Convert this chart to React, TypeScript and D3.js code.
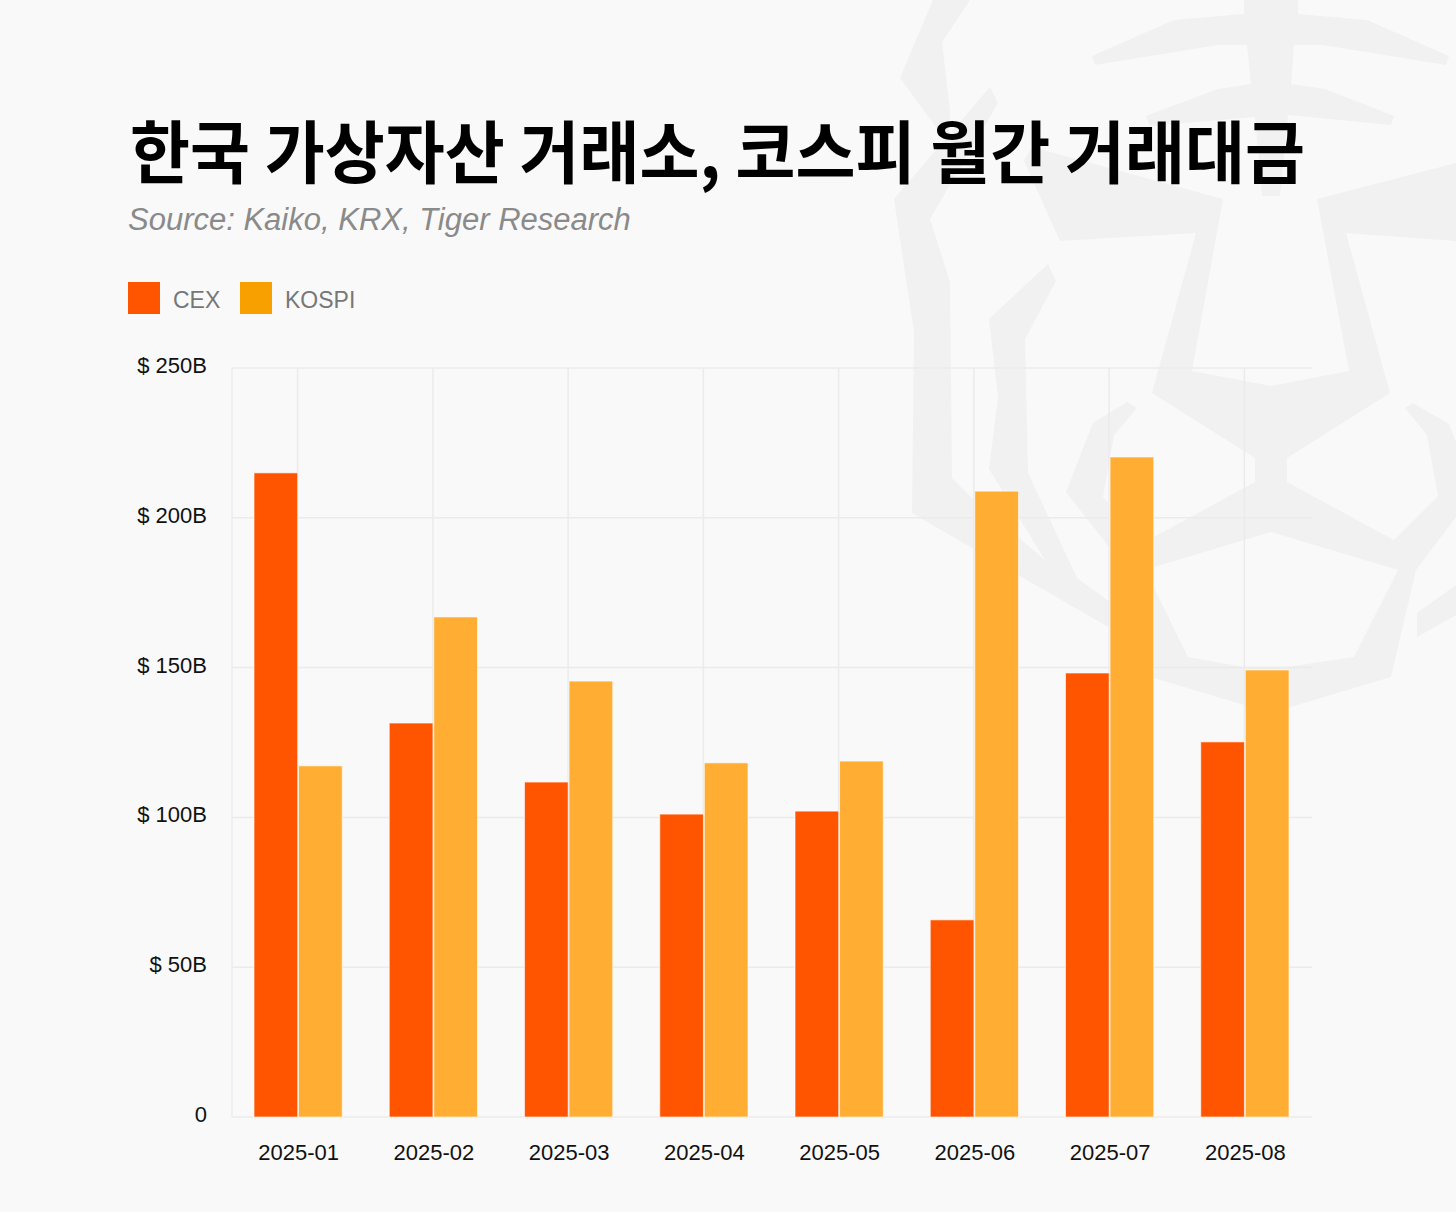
import * as d3 from "d3";
import React from "react";

const months = ["2025-01", "2025-02", "2025-03", "2025-04", "2025-05", "2025-06", "2025-07", "2025-08"];
const seriesNames = ["CEX", "KOSPI"];
const cexValues = [215.0, 131.5, 111.8, 101.1, 102.1, 65.8, 148.2, 125.2];
const kospiValues = [117.2, 166.9, 145.5, 118.2, 118.8, 208.9, 220.3, 149.2];
const yTicks = [0, 50, 100, 150, 200, 250];

const barColours = ["#FF5500", "#FFAD33"];
const legendColours = ["#FF5500", "#F7A000"];

// tiger watermark, rough outline
const watermark: [number, number][][] = [
    [[933, 0], [970, 0], [942, 42], [950, 112], [948, 143], [900, 78]],
    [[990, 87], [998, 103], [930, 219], [950, 282], [952, 478], [974, 500], [1045, 560], [1077, 578], [1110, 602], [1110, 628], [1020, 576], [912, 513], [914, 332], [894, 199]],
    [[1048, 264], [1056, 281], [1025, 339], [1028, 473], [1077, 578], [1045, 560], [989, 469], [998, 397], [989, 319]],
    [[1092, 56], [1174, 20], [1244, 14], [1244, 0], [1298, 0], [1298, 14], [1367, 20], [1449, 56], [1446, 65], [1323, 45], [1294, 45], [1291, 84], [1325, 89], [1394, 116], [1391, 125], [1288, 115], [1280, 196], [1262, 196], [1255, 117], [1150, 126], [1146, 116], [1218, 89], [1251, 84], [1247, 45], [1218, 45], [1095, 65]],
    [[1127, 402], [1137, 408], [1114, 435], [1103, 497], [1110, 505], [1110, 548], [1066, 492], [1093, 423]],
    [[1417, 613], [1456, 585], [1456, 615], [1417, 637]],
];
const faceOuter: [number, number][] = [
    [1024, 161], [1032, 147], [1223, 199], [1192, 371], [1271, 386], [1349, 371], [1317, 199], [1456, 163], [1456, 241], [1346, 233],
    [1390, 393], [1287, 458], [1287, 482], [1394, 540], [1438, 496], [1427, 435], [1405, 408], [1413, 403], [1449, 424], [1456, 442],
    [1456, 517], [1416, 570], [1391, 677], [1287, 708], [1244, 705], [1154, 678], [1110, 660], [1110, 540], [1154, 537], [1255, 482],
    [1255, 458], [1152, 393], [1196, 233], [1060, 241],
];
const faceHole: [number, number][] = [
    [1154, 567], [1271, 532], [1398, 570], [1354, 657], [1287, 667], [1244, 667], [1188, 657], [1154, 588],
];

const W = 1456;
const H = 1212;
const plot = { left: 230, right: 1312, top: 368, bottom: 1117 };

const latin = "'Liberation Sans', Arial, Helvetica, sans-serif";
const korean = "'Noto Sans CJK KR', 'Noto Sans', sans-serif";

function poly(pts: [number, number][]) {
    return "M" + pts.map(p => p.join(",")).join("L") + "Z";
}

function App() {
    const x = d3.scaleBand<string>().domain(months).range([plot.left, plot.right]).paddingInner(0).paddingOuter(0);
    const groupW = 90;
    const inner = d3.scaleBand<string>().domain(seriesNames).range([0, groupW]).padding(0.02);
    const y = d3.scaleLinear().domain([0, 250]).range([plot.bottom, plot.top]);

    const series = [cexValues, kospiValues];

    return (
        <div style={{ position: "absolute", left: 0, top: 0 }}>
            <svg width={W} height={H} style={{ display: "block" }}>
                <rect x={0} y={0} width={W} height={H} fill="#F9F9F9" />

                <g fill="#F1F1F1">
                    {watermark.map((p, i) => <path key={i} d={poly(p)} />)}
                    <path d={poly(faceOuter) + poly(faceHole)} fillRule="evenodd" />
                </g>

                <text x={130} y={178} fontFamily={korean} fontWeight={700} fontSize={68}
                    textLength={1175} lengthAdjust="spacingAndGlyphs" fill="#000">
                    한국 가상자산 거래소, 코스피 월간 거래대금
                </text>
                <text x={128} y={230} fontFamily={latin} fontStyle="italic" fontSize={31} fill="#8A8A8A">
                    Source: Kaiko, KRX, Tiger Research
                </text>

                <g>
                    {seriesNames.map((name, i) => (
                        <g key={name} transform={`translate(${128 + i * 112}, 282)`}>
                            <rect width={32} height={32} fill={legendColours[i]} />
                            <text x={45} y={26} fontFamily={latin} fontSize={23} fill="#777">{name}</text>
                        </g>
                    ))}
                </g>

                <g stroke="#EBEBEB" strokeWidth={1.5}>
                    {yTicks.map(t => (
                        <line key={t} x1={plot.left + 2} x2={plot.right} y1={y(t)} y2={y(t)} />
                    ))}
                    <line x1={plot.left + 2} x2={plot.left + 2} y1={plot.top} y2={plot.bottom} />
                    {months.map(m => {
                        const cx = (x(m) || 0) + x.bandwidth() / 2;
                        return <line key={m} x1={cx} x2={cx} y1={plot.top} y2={plot.bottom} />;
                    })}
                </g>

                <g>
                    {months.map((m, mi) => {
                        const gx = (x(m) || 0) + (x.bandwidth() - groupW) / 2 + 0.5;
                        return (
                            <g key={m} transform={`translate(${gx},0)`}>
                                {series.map((vals, si) => (
                                    <rect key={si}
                                        x={inner(seriesNames[si])}
                                        y={y(vals[mi])}
                                        width={inner.bandwidth()}
                                        height={y(0) - y(vals[mi])}
                                        fill={barColours[si]}
                                        stroke="#FFFFFF"
                                        strokeOpacity={0.6}
                                        strokeWidth={1} />
                                ))}
                            </g>
                        );
                    })}
                </g>

                <g fontFamily={latin} fontSize={22} fill="#111">
                    {yTicks.map(t => (
                        <text key={t} x={207} y={y(t) + 5} textAnchor="end">
                            {t === 0 ? "0" : `$ ${t}B`}
                        </text>
                    ))}
                    {months.map(m => (
                        <text key={m} x={(x(m) || 0) + x.bandwidth() / 2 + 1} y={plot.bottom + 43} textAnchor="middle">
                            {m}
                        </text>
                    ))}
                </g>
            </svg>
        </div>
    );
}

export default App;
